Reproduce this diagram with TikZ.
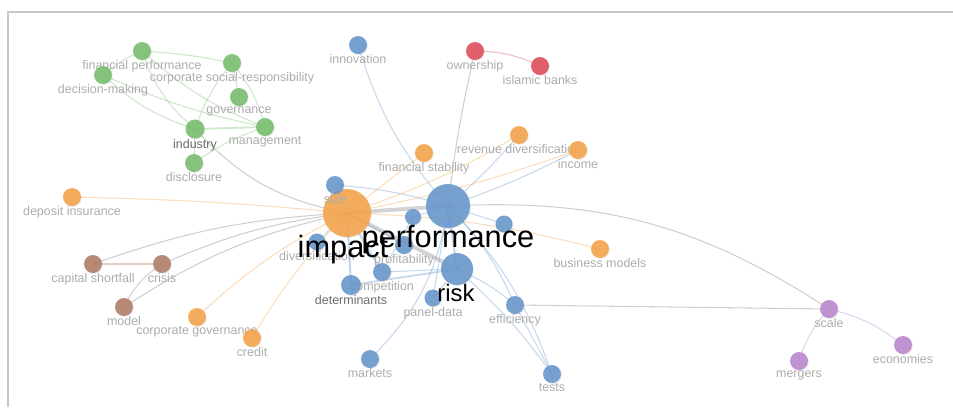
\documentclass[tikz,border=0pt]{standalone}
\usepackage{fontspec}
\setmainfont{Liberation Sans}
\usetikzlibrary{backgrounds,shadows}

\definecolor{kwgreen}{RGB}{122,192,112}
\definecolor{kwblue}{RGB}{106,152,204}
\definecolor{kworange}{RGB}{244,166,78}
\definecolor{kwred}{RGB}{222,82,94}
\definecolor{kwbrown}{RGB}{176,128,106}
\definecolor{kwpurple}{RGB}{186,138,206}
\definecolor{lblgray}{RGB}{172,172,172}
\definecolor{framegray}{RGB}{200,200,200}

\tikzset{
	kw/.style={circle, inner sep=0pt, fill=#1, fill opacity=0.9,
		drop shadow={shadow xshift=0.5pt, shadow yshift=-0.5pt, opacity=0.15}},
	sz/.style={minimum size=#1*0.04cm},
	lbl/.style={font=\fontsize{7.1}{8}\selectfont, text=lblgray, inner sep=0pt},
	dlbl/.style={lbl, text=black!58},
	big/.style={font=\fontsize{#1}{#1}\selectfont, text=black, inner sep=0pt},
	link/.style={line width=0.6pt, draw=#1, draw opacity=0.38},
	fat/.style={line width=2.2pt, draw=gray, draw opacity=0.35}
}

\begin{document}
\begin{tikzpicture}[x=0.02cm, y=-0.02cm]
	\useasboundingbox (0,0) rectangle (953,407);
	% frame
	\draw[framegray, line width=1.1pt] (8,407) -- (8,12) -- (953,12);

	% biggest circle first, so the labels of its neighbours stay on top
	\node[kw=kworange, sz=24] (impact) at (347,213) {};

	% cluster 1 (green)
	\node[kw=kwgreen, sz=9, label={[lbl]below:financial performance}] (finperf) at (142,51) {};
	\node[kw=kwgreen, sz=9, label={[lbl]below:decision-making}] (decmak) at (103,75) {};
	\node[kw=kwgreen, sz=9, label={[lbl]below:corporate social-responsibility}] (csr) at (232,63) {};
	\node[kw=kwgreen, sz=9, label={[lbl]below:governance}] (gov) at (239,97) {};
	\node[kw=kwgreen, sz=9.5, label={[dlbl]below:industry}] (industry) at (195,129) {};
	\node[kw=kwgreen, sz=9, label={[lbl]below:management}] (mgmt) at (265,127) {};
	\node[kw=kwgreen, sz=9, label={[lbl]below:disclosure}] (disclosure) at (194,163) {};

	% cluster 2 (blue)
	\node[kw=kwblue, sz=9, label={[lbl]below:innovation}] (innov) at (358,45) {};
	\node[kw=kwblue, sz=9, label={[lbl]below:size}] (size) at (335,185) {};
	\node[kw=kwblue, sz=22] (perf) at (448,206) {};
	\node[kw=kwblue, sz=8] (bsmall) at (413,217) {};
	\node[kw=kwblue, sz=8.5] (bright) at (504,224) {};
	\node[kw=kwblue, sz=8.5, label={[lbl]below:diversification}] (divers) at (317,242) {};
	\node[kw=kwblue, sz=9, label={[lbl]below:profitability}] (profit) at (404,245) {};
	\node[kw=kwblue, sz=9, label={[lbl]below:competition}] (compet) at (382,272) {};
	\node[kw=kwblue, sz=10, label={[dlbl]below:determinants}] (determ) at (351,285) {};
	\node[kw=kwblue, sz=16] (risk) at (457,269) {};
	\node[kw=kwblue, sz=8.5, label={[lbl]below:panel-data}] (panel) at (433,298) {};
	\node[kw=kwblue, sz=9, label={[lbl]below:efficiency}] (effic) at (515,305) {};
	\node[kw=kwblue, sz=9, label={[lbl]below:markets}] (markets) at (370,359) {};
	\node[kw=kwblue, sz=9, label={[lbl]below:tests}] (tests) at (552,374) {};

	% cluster 3 (orange)
	\node[kw=kworange, sz=9, label={[lbl]below:deposit insurance}] (deposit) at (72,197) {};
	\node[kw=kworange, sz=9, label={[lbl]below:financial stability}] (finstab) at (424,153) {};
	\node[kw=kworange, sz=9, label={[lbl]below:revenue diversification}] (revdiv) at (519,135) {};
	\node[kw=kworange, sz=9, label={[lbl]below:income}] (income) at (578,150) {};
	\node[kw=kworange, sz=9, label={[lbl]below:business models}] (busmod) at (600,249) {};
	\node[kw=kworange, sz=9, label={[lbl]below:corporate governance}] (corpgov) at (197,317) {};
	\node[kw=kworange, sz=9, label={[lbl]below:credit}] (credit) at (252,338) {};

	% cluster 4 (brown)
	\node[kw=kwbrown, sz=9, label={[lbl]below:capital shortfall}] (capshort) at (93,264) {};
	\node[kw=kwbrown, sz=9, label={[lbl]below:crisis}] (crisis) at (162,264) {};
	\node[kw=kwbrown, sz=9, label={[lbl]below:model}] (model) at (124,307) {};

	% cluster 5 (red)
	\node[kw=kwred, sz=9, label={[lbl]below:ownership}] (owner) at (475,51) {};
	\node[kw=kwred, sz=9, label={[lbl]below:islamic banks}] (islamic) at (540,66) {};

	% cluster 6 (purple)
	\node[kw=kwpurple, sz=9, label={[lbl]below:scale}] (scale) at (829,309) {};
	\node[kw=kwpurple, sz=9, label={[lbl]below:economies}] (econ) at (903,345) {};
	\node[kw=kwpurple, sz=9, label={[lbl]below:mergers}] (mergers) at (799,361) {};

	% links
	\begin{scope}[on background layer]
		% green
		\draw[link=kwgreen] (finperf.center) to[bend left=4] (csr.center);
		\draw[link=kwgreen] (finperf.center) to[bend right=8] (decmak.center);
		\draw[link=kwgreen] (finperf.center) to[bend right=15] (industry.center);
		\draw[link=kwgreen] (finperf.center) to[bend right=10] (mgmt.center);
		\draw[link=kwgreen] (decmak.center) to[bend right=12] (industry.center);
		\draw[link=kwgreen] (decmak.center) to[bend right=6] (mgmt.center);
		\draw[link=kwgreen] (csr.center) -- (gov.center);
		\draw[link=kwgreen] (csr.center) to[bend right=10] (industry.center);
		\draw[link=kwgreen] (csr.center) to[bend left=12] (mgmt.center);
		\draw[link=kwgreen, line width=1pt] (industry.center) -- (mgmt.center);
		\draw[link=kwgreen] (industry.center) -- (disclosure.center);
		\draw[link=kwgreen] (disclosure.center) to[bend left=8] (mgmt.center);
		\draw[link=gray] (industry.center) to[bend right=18] (impact.center);
		% red
		\draw[link=kwred] (owner.center) to[bend left=12] (islamic.center);
		\draw[link=gray] (owner.center) to[bend right=3] (perf.center);
		% blue
		\draw[link=kwblue] (innov.center) to[bend right=12] (perf.center);
		\draw[link=kwblue] (size.center) -- (impact.center);
		\draw[link=kwblue] (size.center) to[bend left=6] (perf.center);
		\draw[fat] (impact.center) -- (perf.center);
		\draw[fat] (impact.center) -- (risk.center);
		\draw[link=kwblue, line width=1.2pt] (perf.center) -- (risk.center);
		\draw[link=kwblue] (perf.center) -- (bsmall.center);
		\draw[link=kwblue] (perf.center) -- (bright.center);
		\draw[link=kwblue] (perf.center) to[bend left=10] (effic.center);
		\draw[link=kwblue] (perf.center) to[bend left=12] (tests.center);
		\draw[link=kwblue] (risk.center) to[bend left=6] (tests.center);
		\draw[link=kwblue] (effic.center) -- (tests.center);
		\draw[link=kwblue] (risk.center) to[bend left=8] (effic.center);
		\draw[link=kwblue, line width=1pt] (risk.center) -- (determ.center);
		\draw[link=kwblue] (risk.center) -- (compet.center);
		\draw[link=kwblue] (risk.center) -- (panel.center);
		\draw[link=kwblue, line width=1.2pt] (impact.center) -- (compet.center);
		\draw[link=kwblue, line width=1.2pt] (impact.center) -- (determ.center);
		\draw[link=kwblue] (impact.center) -- (profit.center);
		\draw[link=kwblue] (impact.center) -- (divers.center);
		\draw[link=kwblue] (bsmall.center) -- (compet.center);
		\draw[link=kwblue] (markets.center) to[bend right=18] (perf.center);
		\draw[link=kwblue] (panel.center) -- (perf.center);
		\draw[link=kwblue] (perf.center) to[bend right=4] (revdiv.center);
		\draw[link=kwblue] (perf.center) to[bend right=4] (income.center);
		% orange
		\draw[link=kworange] (impact.center) to[bend right=2] (deposit.center);
		\draw[link=kworange] (impact.center) -- (finstab.center);
		\draw[link=kworange] (impact.center) to[bend right=6] (revdiv.center);
		\draw[link=kworange] (impact.center) to[bend right=4] (income.center);
		\draw[link=kworange] (impact.center) to[bend left=6] (busmod.center);
		\draw[link=kworange] (impact.center) to[bend right=8] (corpgov.center);
		\draw[link=kworange] (impact.center) to[bend right=6] (credit.center);
		% brown
		\draw[link=kwbrown, line width=0.9pt] (capshort.center) -- (crisis.center);
		\draw[link=kwbrown] (crisis.center) to[bend right=15] (model.center);
		\draw[link=gray] (capshort.center) to[bend left=8] (impact.center);
		\draw[link=gray] (crisis.center) to[bend left=8] (impact.center);
		\draw[link=gray] (model.center) to[bend left=10] (impact.center);
		% purple
		\draw[link=kwpurple] (scale.center) to[bend left=12] (econ.center);
		\draw[link=kwpurple] (scale.center) to[bend right=12] (mergers.center);
		\draw[link=gray] (scale.center) to[bend right=18] (perf.center);
		\draw[link=gray] (scale.center) -- (effic.center);
	\end{scope}

	% main keywords
	\node[big=17.5] (impacttxt) at (343,250) {impact};
	\node[big=17.5] (perftxt) at (448,240) {performance};
	\node[big=13.6] (risktxt) at (456,293) {risk};
\end{tikzpicture}
\end{document}
